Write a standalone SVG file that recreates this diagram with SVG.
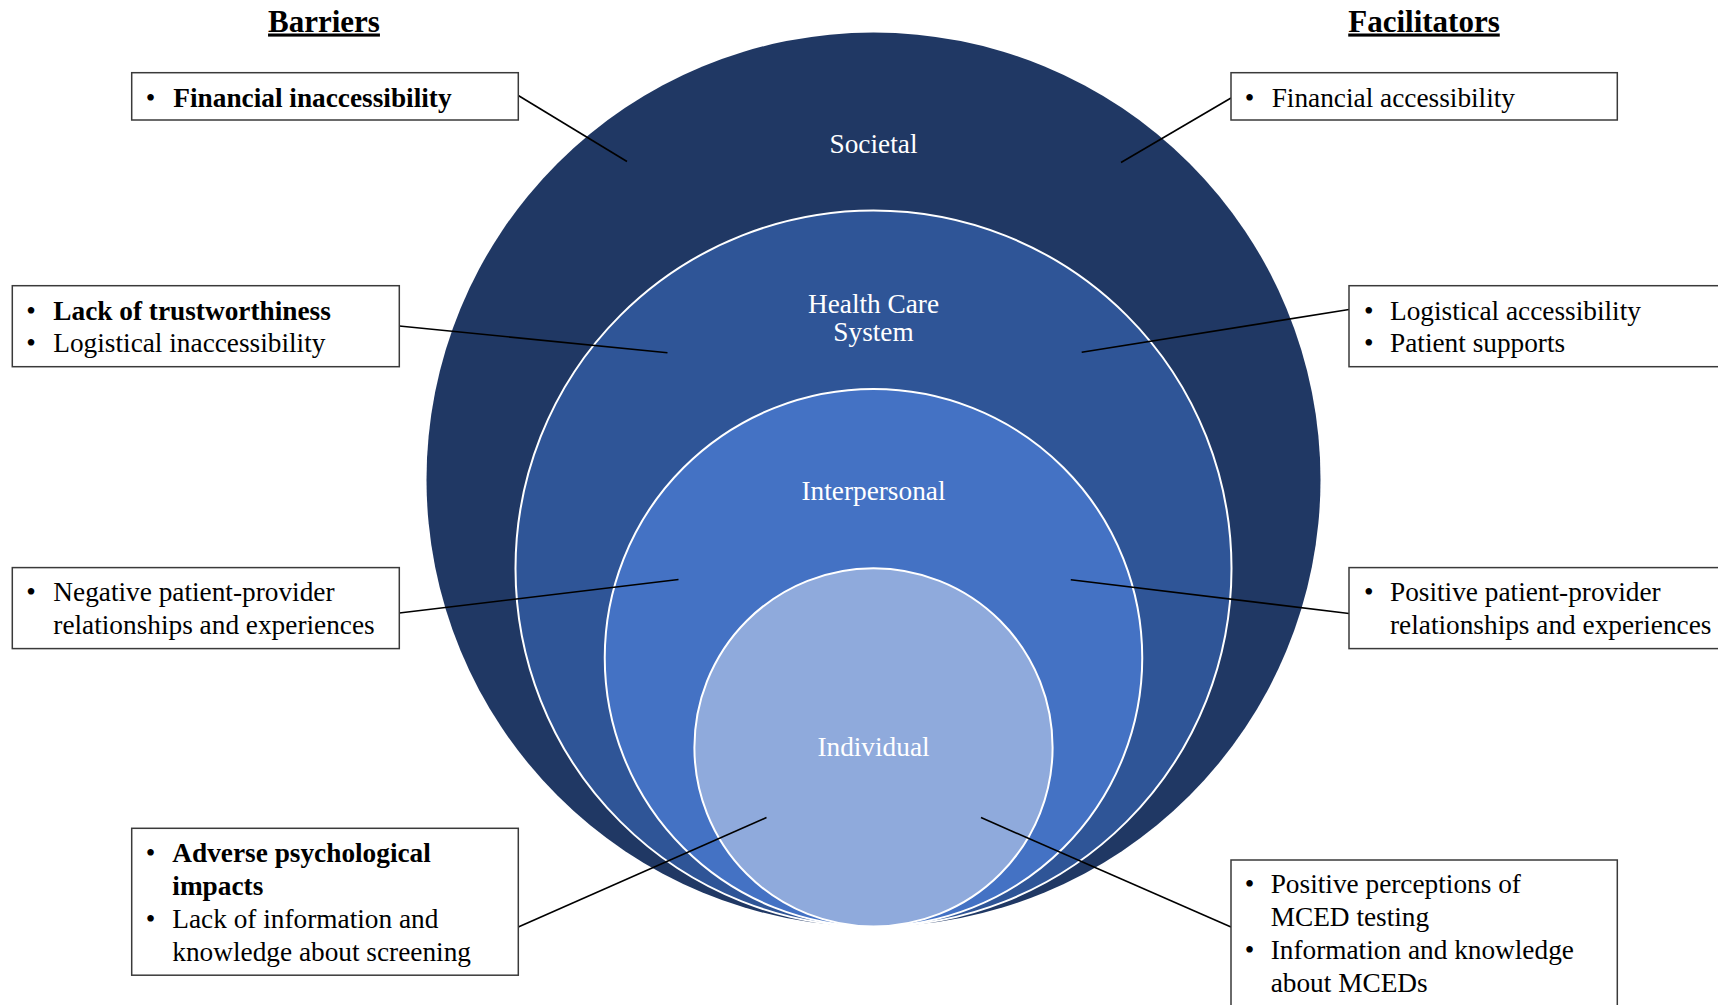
<svg xmlns="http://www.w3.org/2000/svg" width="1718" height="1005" viewBox="0 0 1718 1005">
<style>
.t{font-family:"Liberation Serif","Times New Roman",serif;font-size:27.3px;fill:#000}
.b{font-weight:bold}
.m{text-anchor:middle}
.lbl{fill:#fff;text-anchor:middle}
.ttl{font-family:"Liberation Serif","Times New Roman",serif;font-size:31px;font-weight:bold;text-anchor:middle;text-decoration:underline}
.box{fill:#fff;stroke:#3a3a3a;stroke-width:1.5}
.ring{stroke:#fff;stroke-width:2}
.conn{stroke:#000;stroke-width:1.6;fill:none}
</style>
<rect width="1718" height="1005" fill="#fff"/>
<g id="titles">
<text class="ttl" x="324" y="31.5">Barriers</text>
<text class="ttl" x="1424" y="31.5">Facilitators</text>
</g>
<g id="societal">
<circle cx="873.5" cy="479.5" r="447" fill="#203864"/>
<text class="t lbl" x="873.5" y="152.5">Societal</text>
</g>
<g id="health-care-system">
<circle class="ring" cx="873.5" cy="568.5" r="358" fill="#2F5597"/>
<text class="t lbl" x="873.5" y="313">Health Care</text>
<text class="t lbl" x="873.5" y="341">System</text>
</g>
<g id="interpersonal">
<circle class="ring" cx="873.5" cy="657.75" r="268.75" fill="#4472C4"/>
<text class="t lbl" x="873.5" y="499.5">Interpersonal</text>
</g>
<g id="individual">
<circle class="ring" cx="873.5" cy="747.4" r="179.1" fill="#8FAADC"/>
<text class="t lbl" x="873.5" y="756">Individual</text>
</g>
<g id="connectors">
<line class="conn" x1="518.3" y1="95.5" x2="627" y2="161.5"/>
<line class="conn" x1="1231" y1="98" x2="1121" y2="162.5"/>
<line class="conn" x1="399.3" y1="326" x2="667.5" y2="352.7"/>
<line class="conn" x1="1349" y1="309.5" x2="1081.7" y2="352.3"/>
<line class="conn" x1="399.3" y1="613" x2="678.5" y2="579.5"/>
<line class="conn" x1="1349" y1="613.5" x2="1070.8" y2="579.8"/>
<line class="conn" x1="518.3" y1="927" x2="766.5" y2="817.6"/>
<line class="conn" x1="1231" y1="927" x2="981" y2="817.6"/>
</g>
<g id="barrier-societal">
<rect class="box" x="131.7" y="72.7" width="386.6" height="47.3"/>
<text class="t m" x="150.5" y="106.5">•</text>
<text class="t b" x="173.3" y="106.5">Financial inaccessibility</text>
</g>
<g id="facilitator-societal">
<rect class="box" x="1231" y="72.7" width="386.3" height="47.3"/>
<text class="t m" x="1249.5" y="106.5">•</text>
<text class="t" x="1271.7" y="106.5">Financial accessibility</text>
</g>
<g id="barrier-health-care">
<rect class="box" x="12.3" y="285.7" width="387" height="81"/>
<text class="t m" x="31" y="319.5">•</text>
<text class="t b" x="53.3" y="319.5">Lack of trustworthiness</text>
<text class="t m" x="31" y="352.4">•</text>
<text class="t" x="53.3" y="352.4">Logistical inaccessibility</text>
</g>
<g id="facilitator-health-care">
<rect class="box" x="1349" y="285.7" width="380" height="81"/>
<text class="t m" x="1368.8" y="319.5">•</text>
<text class="t" x="1390" y="319.5">Logistical accessibility</text>
<text class="t m" x="1368.8" y="352.4">•</text>
<text class="t" x="1390" y="352.4">Patient supports</text>
</g>
<g id="barrier-interpersonal">
<rect class="box" x="12.3" y="567.6" width="387" height="81"/>
<text class="t m" x="31" y="601.2">•</text>
<text class="t" x="53.3" y="601.2">Negative patient-provider</text>
<text class="t" x="53.3" y="634.1">relationships and experiences</text>
</g>
<g id="facilitator-interpersonal">
<rect class="box" x="1349" y="567.6" width="380" height="81"/>
<text class="t m" x="1368.8" y="601.2">•</text>
<text class="t" x="1390" y="601.2">Positive patient-provider</text>
<text class="t" x="1390" y="634.1">relationships and experiences</text>
</g>
<g id="barrier-individual">
<rect class="box" x="131.7" y="828.3" width="386.6" height="146.9"/>
<text class="t m" x="150.5" y="862.4">•</text>
<text class="t b" x="172.3" y="862.4">Adverse psychological</text>
<text class="t b" x="172.3" y="895.3">impacts</text>
<text class="t m" x="150.5" y="928.2">•</text>
<text class="t" x="172.3" y="928.2">Lack of information and</text>
<text class="t" x="172.3" y="961.1">knowledge about screening</text>
</g>
<g id="facilitator-individual">
<rect class="box" x="1231" y="860" width="386.3" height="160"/>
<text class="t m" x="1249.5" y="893">•</text>
<text class="t" x="1270.7" y="893">Positive perceptions of</text>
<text class="t" x="1270.7" y="925.9">MCED testing</text>
<text class="t m" x="1249.5" y="958.8">•</text>
<text class="t" x="1270.7" y="958.8">Information and knowledge</text>
<text class="t" x="1270.7" y="991.7">about MCEDs</text>
</g>
</svg>
